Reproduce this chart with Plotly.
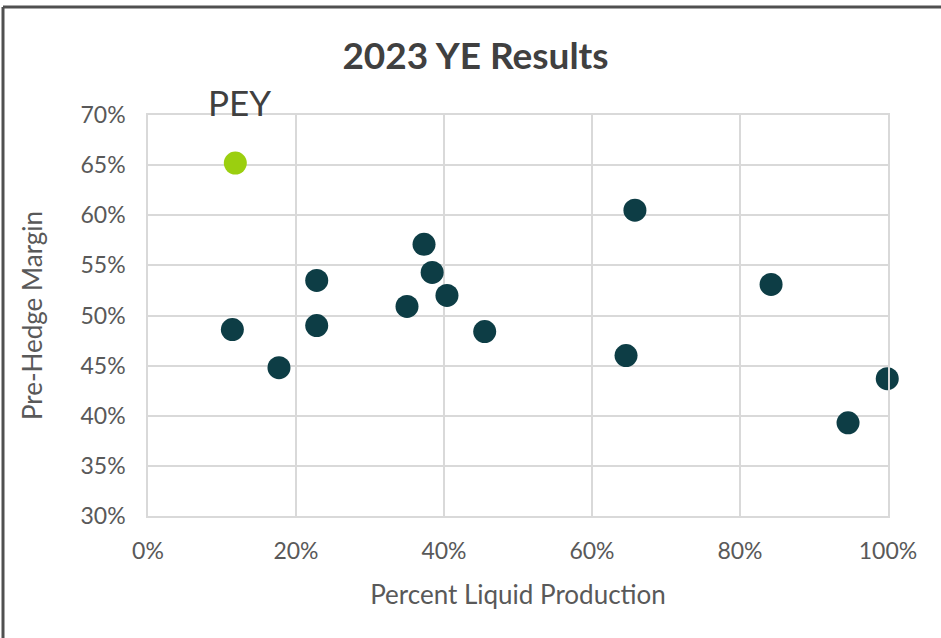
import plotly.graph_objects as go

# Data (percent values)
liquid_pct = [11.4, 17.7, 22.8, 22.8, 35.0, 37.3, 38.4, 40.4, 45.5, 64.6, 65.8, 84.2, 94.6, 99.9]
margin_pct = [48.6, 44.8, 53.5, 49.0, 50.9, 57.1, 54.3, 52.0, 48.4, 46.0, 60.5, 53.1, 39.3, 43.7]
pey_liquid = [11.8]
pey_margin = [65.2]
pey_label = "PEY"

x_ticks = [0, 20, 40, 60, 80, 100]
x_tick_labels = ["0%", "20%", "40%", "60%", "80%", "100%"]
y_ticks = [30, 35, 40, 45, 50, 55, 60, 65, 70]
y_tick_labels = ["30%", "35%", "40%", "45%", "50%", "55%", "60%", "65%", "70%"]

FONT = "Lato, 'Open Sans', sans-serif"
W, H = 941, 638
L, R, T, B = 148, 53, 115, 122
pw, ph = W - L - R, H - T - B

fig = go.Figure()
fig.add_trace(go.Scatter(
    x=liquid_pct, y=margin_pct, mode="markers",
    marker=dict(size=23, color="#0d3d45"), showlegend=False, cliponaxis=False))
fig.add_trace(go.Scatter(
    x=pey_liquid, y=pey_margin, mode="markers",
    marker=dict(size=23, color="#9bcf0f"), showlegend=False, cliponaxis=False))

fig.add_annotation(x=pey_liquid[0], y=70, text=pey_label, showarrow=False,
                   yanchor="bottom", xanchor="center", yshift=-10, xshift=4,
                   font=dict(family=FONT, size=35, color="#404040"))

grid = "#d9d9d9"
tick_font = dict(family=FONT, size=23, color="#595959")
fig.update_xaxes(range=[0, 100], tickmode="array", tickvals=x_ticks, ticktext=x_tick_labels,
                 showgrid=True, gridcolor=grid, gridwidth=1.5,
                 showline=True, linecolor=grid, linewidth=1.5, mirror=True,
                 zeroline=False, ticks="outside", ticklen=14, tickcolor="rgba(0,0,0,0)",
                 tickfont=tick_font,
                 title=dict(text="Percent Liquid Production", standoff=22,
                            font=dict(family=FONT, size=26, color="#595959")))
fig.update_yaxes(range=[30, 70], tickmode="array", tickvals=y_ticks, ticktext=y_tick_labels,
                 showgrid=True, gridcolor=grid, gridwidth=1.5,
                 showline=True, linecolor=grid, linewidth=1.5, mirror=True,
                 zeroline=False, ticks="outside", ticklen=16, tickcolor="rgba(0,0,0,0)",
                 tickfont=tick_font,
                 title=dict(text="Pre-Hedge Margin", standoff=30,
                            font=dict(family=FONT, size=26, color="#595959")))

# outer frame (top and left edges visible)
fx0 = (3 - L) / pw
fy1 = (H - B - 7) / ph
fig.add_shape(type="line", xref="paper", yref="paper", x0=fx0, x1=(W + 5 - L) / pw, y0=fy1, y1=fy1,
              line=dict(color="#505050", width=3))
fig.add_shape(type="line", xref="paper", yref="paper", x0=fx0, x1=fx0, y0=fy1, y1=(-B - 5) / ph,
              line=dict(color="#505050", width=3))

fig.update_layout(
    width=W, height=H,
    margin=dict(l=L, r=R, t=T, b=B),
    paper_bgcolor="white", plot_bgcolor="white",
    title=dict(text="<b>2023 YE Results</b>", x=475.5 / W, xanchor="center",
               y=1 - 56 / H, yanchor="middle",
               font=dict(family=FONT, size=37, color="#404040")),
)

fig.write_html("out.html", config={"displayModeBar": False},
               post_script="document.body.style.margin='0';")
